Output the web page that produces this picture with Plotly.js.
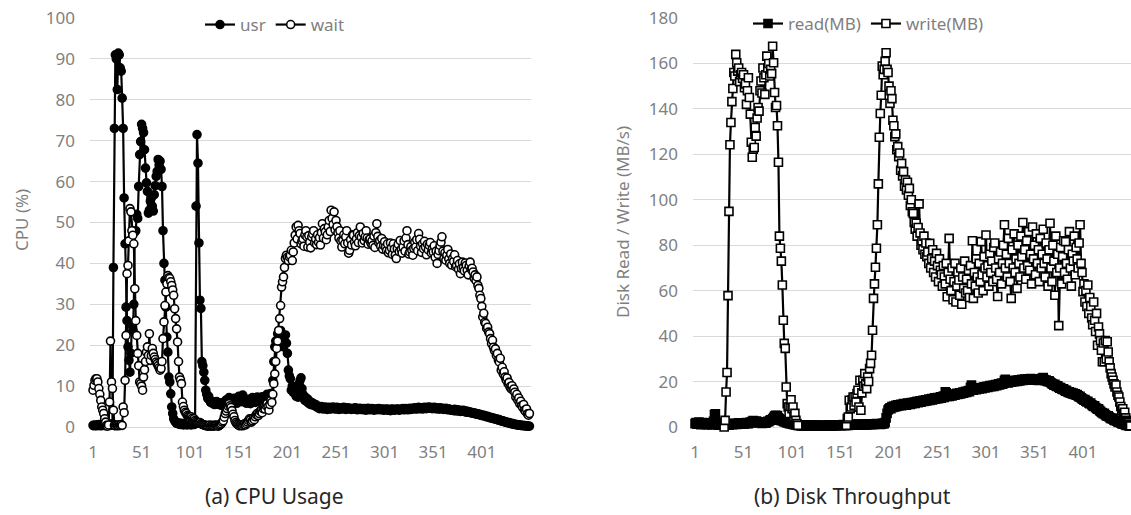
<!DOCTYPE html>
<html>
<head>
<meta charset="utf-8">
<script src="https://cdn.plot.ly/plotly-3.0.1.min.js"></script>
<style>html,body{margin:0;padding:0;background:#fff;}#chart{width:1131px;height:515px;}</style>
</head>
<body>
<div id="chart"></div>
<script>
// ---------- data ----------
const xTicks = [1, 51, 101, 151, 201, 251, 301, 351, 401];
const xTickLabels = ["1", "51", "101", "151", "201", "251", "301", "351", "401"];

// (a) CPU usage, %
const usr = [
0.4,0.3,0.5,0.4,0.3,0.5,0.6,0.4,0.3,0.5,0.4,0.6,0.5,0.3,0.4,0.5,0.7,0.5,0.4,0.6,
0.8,39,
73,91,90,82.5,91.4,91,87.8,87,80.4,73,
56,44.8,29.3,26,19.6,16.3,13.4,18,25,23.6,
30,47.7,48,52,51,58.8,66.6,69.8,74,73,
72,67.8,63.3,59.7,57.6,52.3,53,55.2,56,54,
52.8,56.8,59,61.3,62.5,65.4,64,65,63,58.8,
48,40,35.9,29.3,22,18.3,12.2,11,8.1,4.9,
3.3,2,
1.5,1.2,0.9,0.8,1,0.7,0.6,0.9,0.8,0.5,0.7,0.6,0.8,0.5,0.7,0.9,0.6,0.5,0.8,0.7,0.6,1.5,
54,71.5,64.5,45,31,29,
16,15,13.4,11.4,9,8,7,7.5,
6.5,6,6.3,5.8,6,5.5,5.9,6.2,5.6,6,5.5,5.8,5.3,5.7,6,5.5,6.2,6.6,6,6.8,
7.2,6.5,6,5.7,6.3,7,6.6,6,5.8,6.4,7.5,7,6.5,6.2,7.8,7,6.4,6,5.8,6.3,
6.8,6,5.7,6.5,7.2,6.8,6.2,6,6.5,7.3,7,6.6,6.2,6.8,7.4,7,6.5,6.9,7.3,8,
7.2,6.8,7.5,8.2,7.7,
11.4,16,19.6,21,20,22.8,19.6,22,23.6,21,22.2,19.6,21,22.5,20.5,
18,13.9,12.5,11.8,9,10,8.5,9.2,8.1,7.5,8,7.3,10.5,11.4,12,9.4,8,7,6.5,7.2,
6.2,6.8,5.8,6.2,5.5,6,5.4,5.7,5.2,5.5,
4.9,5.1,4.7,4.5,4.8,5,4.6,4.4,4.7,4.9,4.5,4.3,4.6,4.8,4.4,4.5,4.7,4.9,4.6,4.4,
4.5,4.8,4.6,4.3,4.5,4.7,4.4,4.6,4.8,4.5,4.3,4.5,4.7,4.4,4.6,4.5,4.3,4.4,4.6,4.5,
4.7,4.4,4.2,4.4,4.6,4.3,4.5,4.4,4.2,4.5,4.3,4.1,4.4,4.6,4.3,4.2,4.4,4.5,4.3,4.1,
4.3,4.4,4.2,4.4,4.5,4.3,4.2,4.4,4.3,4.1,
4.3,4.2,4.4,4.1,4.3,4.2,4.0,4.3,4.4,4.2,4.1,4.3,4.2,4.4,4.3,4.1,4.2,4.4,4.3,4.5,
4.2,4.3,4.5,4.4,4.2,4.4,4.6,4.3,4.5,4.4,4.6,4.7,4.5,4.4,4.6,4.8,4.5,4.7,4.6,4.4,
4.6,4.8,4.7,4.5,4.7,4.9,4.6,4.8,4.7,4.5,4.6,4.8,4.5,4.7,4.6,4.4,4.5,4.7,4.4,4.6,
4.5,4.3,4.4,4.6,4.3,4.2,4.4,4.3,4.1,4.2,
4.2,4.0,4.3,4.1,3.9,4.2,4.0,4.1,3.8,4.0,3.9,4.1,3.8,3.7,3.9,3.6,3.8,3.7,3.5,3.6,
3.4,3.5,3.3,3.4,3.2,3.1,3.2,3.0,3.1,2.9,2.8,2.9,2.7,2.8,2.6,2.5,2.6,2.4,2.3,2.4,
2.2,2.1,2.2,2.0,1.9,2.0,1.8,1.7,1.8,1.6,1.5,1.4,1.5,1.3,1.2,1.3,1.1,1.0,1.1,0.9,
0.8,0.9,0.7,0.75,0.6,0.65,0.5,0.55,0.45,0.5,0.4,0.35,0.4,0.3,0.35,0.25,0.3,0.2,0.25,0.2
];

const wait = [
9,10.2,11.4,11.8,11.8,11,9.4,8,6.5,4.9,4.1,3.3,2,1.2,
0.4,0.2,0.5,6.1,21,11,9.4,4.1,
0.4,0.3,0.5,0.4,0.3,0.5,0.4,0.6,0.4,4.9,3.5,
11.4,22.4,37.5,39.5,45.5,53.4,52.6,48,46.9,44.8,33.8,26,22.4,18,
15,11,10.6,10,9,12.2,14,16,18.3,19.6,
17.5,22.8,16.3,17.5,19.2,18,17.1,16.5,15.9,15.5,
15,14.5,13.9,14.3,16,21.6,25.7,29.7,33,35,
37,36.5,36.3,35.5,34.6,33.5,32.2,28.9,26.5,24,
20.8,16,12.2,11.5,10.6,6.1,5,4.1,3.6,3.3,
2.8,2.6,2.4,2.2,2.5,2.1,1.8,2,1.6,1.4,
1.2,1,0.9,1.1,0.8,0.7,0.6,0.5,0.4,
0.4,0.3,0.2,0.3,0.5,0.2,0.3,0.4,0.2,0.3,0.5,0.4,0.3,0.2,0.4,0.6,0.8,1.2,
1.5,2.4,3.3,3.9,4.5,5.1,5.7,5.2,4.8,4.0,3.1,2.5,1.6,1.1,0.8,0.6,
0.4,0.3,0.5,0.4,0.3,0.6,0.8,0.5,0.8,1.2,1.6,2,1.8,1.2,1.5,2.2,1.8,2.5,3,3.3,
2.8,3.3,3.9,4.1,3.5,4.5,4.9,4.4,5.2,5.7,5.0,4.1,5.5,6.5,6.0,
8,10.6,13,16,19.2,21,23.6,26.5,29.7,34.2,35.5,36.7,39,41.2,42,41.5,40.7,41.6,42,43.2,
40.7,42.8,45,46.9,48.9,46,49.3,48,
47.3,44.8,45.5,46,44.2,47,48,46.5,44,46.8,45.2,43.8,46.5,47.2,48,45,46,44.6,47,45.2,
46.3,44.5,47.5,49.7,46.2,48.5,47.7,45.8,47,48.9,50.5,47.8,53,51,49.5,52.6,48.2,
50.5,49,47.5,46.2,48,45.5,44,45.6,47,44.8,46.5,48,45,42.5,43.2,45.8,44.5,47,46.9,45.2,
44.3,46,47.5,45.1,46.8,48.9,46.4,45,47.3,45.6,46.5,48,46.2,44.7,45.8,46,44.9,45.5,44.4,46.7,
43.9,47.5,49.7,46.6,45,45.6,44.2,46.1,43.5,44.4,
45.3,44,43.1,44.8,42.6,43.2,45,43.8,42.2,44.8,43.5,42,41.2,43.6,44.7,42.9,45.6,43.4,42.5,44,
45.5,43,46.2,48,44.6,42.3,42.8,44.1,43.2,42,43.7,45.2,44,45.8,43.1,47.3,45.9,44.2,42.7,44.8,
43.6,45.4,44,42.1,44.7,43.3,44.4,45.1,42.6,43.5,
42.8,44.3,41.5,43,40,42.2,43.1,44.4,45.2,46.5,43,41.2,42.6,40.8,42,43.4,41.1,40,42.3,39.6,
41.2,40.5,42.1,39.2,39.5,40.7,38.6,39.9,37.5,38.8,40.3,39,38.2,40.1,39.5,38.3,37.2,39.4,40.3,38.6,
38.8,37.9,36.4,37.2,35.8,36.7,34.6,33.9,32.2,31.4,
29.5,26.9,27.8,25.6,25.3,24.1,24.4,23.2,22.8,21.6,20.4,21.2,19.5,18.7,19.1,17.5,18,16.4,15.9,16.8,
13.9,14.6,13,13.5,12.2,11.5,12,10.6,10.9,9.8,9.4,10.1,9,9.3,8.5,7.3,8,6.6,7.1,5.7,
6.3,5.2,4.8,5.5,4.1,3.8,4.4,3.2,2.9,3.3
];

// (b) Disk throughput, MB/s
const readMB = [
1.5,2,1.2,1.8,2.2,1.5,1,1.6,2,1.3,1.1,1.7,1.4,1,1.5,1.9,1.2,0.9,1.4,2.5,
5.5,5.8,2,1.2,0.8,1,1.3,0.9,1.1,0.8,
0.9,1.2,1,1.4,1.1,0.8,1.3,1.5,1.2,1,1.4,1.6,1.3,1.1,1.5,1.8,1.4,1.2,1.6,1.9,
1.5,1.3,1.7,2,1.6,1.4,1.8,2.2,1.9,2.5,2.8,2.3,2.1,2.6,2.4,2,1.8,2.1,1.9,1.6,
1.8,2.2,2,1.7,2.1,2.5,2.3,2.8,3.2,3,
3.6,4.2,4.8,5.2,4.5,5,4,3.6,3,2.8,3.2,2.6,2.2,2.5,2,1.8,2.1,1.6,1.4,1.7,
1.3,1.1,1.4,1,0.9,1.2,0.8,0.7,1,0.6,
0.6,0.8,0.5,0.7,0.9,0.6,0.4,0.7,0.5,0.8,0.6,0.4,0.7,0.9,0.5,0.6,0.8,0.5,0.4,0.6,
0.7,0.5,0.8,0.6,0.4,0.7,0.5,0.6,0.9,0.7,0.5,0.6,0.8,0.5,0.7,0.9,0.6,0.8,1,0.7,
0.9,0.6,0.8,1.1,0.7,0.9,0.8,1,0.7,0.9,1.2,0.8,1,1.1,0.9,1.2,1,0.8,1.1,1.3,
1,0.9,1.2,1,1.3,1.1,0.9,1.2,1,1.4,1.1,1.3,1,1.2,1.4,1.1,1.3,1.5,1.2,1.4,
1.3,1.1,1.5,1.3,1.6,
1.5,2,4,6,7.5,8,
8.5,8,9,8.6,9.2,8.8,9.5,9,9.8,9.3,9.6,10,9.4,9.9,10.3,9.7,10.1,9.6,10.5,10,
10.4,9.9,10.8,10.2,10.6,11,10.4,10.9,11.3,10.7,11.1,11.5,10.9,11.4,11.8,11.2,11.6,12,11.5,
11.9,12.3,11.7,12.1,12.5,11.9,12.4,12.8,12.2,12.6,13,12.5,12.9,13.3,12.7,13.1,13.6,13,15.5,15,
13.5,13.9,13.4,13.8,14.2,13.7,14.1,14.5,14,14.4,14.8,14.3,14.7,15.1,14.6,15,15.4,14.9,15.3,15.7,
15.2,15.6,16,15.5,17.5,18.5,16.5,16.2,16.6,16.9,16.4,16.8,17.2,16.7,17.1,17.4,16.9,17.3,17.7,17.2,
17.6,17.9,17.4,17.8,18.2,17.7,18.1,18.4,17.9,18.3,18.7,18.2,18.6,19,18.5,18.9,19.3,18.8,19.2,20.5,
21,19.5,19.9,19.4,19.8,20.2,19.7,20.1,20.4,19.9,20.3,20.6,20.1,20.5,20.8,20.3,20.7,21,20.5,20.8,
21.1,20.6,20.9,21.2,20.7,21,21.3,20.8,21.1,20.6,
20.9,21.2,20.7,21,20.5,20.8,21.1,20.6,21.5,21.8,20.9,20.4,20.7,20.2,19.9,20.3,19.8,19.5,19.1,18.8,
18.4,18.8,18.2,17.8,18.1,17.5,17.1,17.4,16.8,16.5,16.8,16.2,15.8,16.1,15.5,15.2,15.5,14.9,15.2,14.6,
14.9,14.3,14.6,14,14.3,13.7,13.2,13.5,12.9,12.5,
12.2,11.8,12.1,11.4,11,11.3,10.6,10.2,10.5,9.8,9.4,9,9.3,8.6,8.2,7.8,8,7.3,6.9,6.5,
6.2,5.8,6,5.4,5,4.7,4.9,4.4,4,3.7,3.9,3.4,3,2.8,3,2.5,2.2,2,2.2,1.8,
1.5,1.3,1.5,1.1,0.9,0.7,0.8,0.6,0.5,0.4
];

const writeMB = [
null,null,null,null,null,null,null,null,null,null,null,null,null,null,null,
null,null,null,null,null,null,null,null,null,null,null,null,null,null,null,
0,2.9,15.4,24,57.8,94.9,124.2,134,143.2,149,
156,154.5,164,160.3,156.6,158,152,155,156,153.5,
155,149.3,151,142,148,153.7,145,137.7,125.3,118.7,
122.3,123,131.8,128,136,140.6,139,148,152.3,147,
158,153.7,146.4,155,163.2,158,160,154.5,157.4,155.5,
167.6,160.3,147.2,140.6,141.5,132.6,116.5,84,78.7,73,
62.5,47,36.8,34.6,17.6,10.3,8.8,5.9,9,12,
8,8.8,4.4,6,2.9,1.5,0.7,
null,null,null,null,null,null,null,null,null,null,null,null,null,null,null,null,null,null,null,null,
null,null,null,null,null,null,null,null,null,null,null,null,null,null,null,null,null,null,null,null,
null,null,null,null,null,null,null,null,null,
0.7,3.7,4.4,11.8,8,8.8,12,13.2,9.5,13.2,11,14.7,16.2,8.8,20.6,7.4,15,20.6,18,23.5,
19,16.9,22,20,25.7,28,31.6,42.6,56.6,63,70.3,78.7,89,107,127.5,138,146,158.8,155,157.4,
160.9,164.7,157.4,156,150,142.5,148,144.5,135,132.6,127.8,129,122,123.4,119,120.6,113,116,110.5,112.4,
106,108.7,104.3,107.7,102,105,97.5,100,94.7,94,90,87,89.7,84,87.8,98.2,85.4,80,82,78,
84,76,81,75,
77,72,80.8,70,74,78,68,73,66,76.4,71,64,74,69,67,62,71,66,63,72,
57.3,68,83,65,60,70,56,64,72,55,62,68,64.7,58,70,54,66,61,73,59,
65,60,69,57,71,63,82,56.6,68,62,74,66,59,72,64,81.6,67,60,75,70,
84.5,66,71,62,76,68,73,64,79,81,70,65,57.4,74,68,77,63,72,80,89,
70,76,66,83,72,64,56.6,78,70,85,68,74,61,80,72,66,84,75,90,70,
78,65,82,71,86,69,76,63,88,74,80,67,85,72,78,64,83,70,76,87,
72,66,81,74,62,78,89.7,70,64,80,73,58,84,68,76,44.6,70,79,63,75,
82,68,81.6,72,65,78,86,70,62,76,73,84,67,79,74,70,81,89,72,68,
59.6,63,55,60,53,62.5,50,57,53,48,45,55,47,42,50,36,44,41,38,33.8,
28.7,37,28.7,38,30,37.5,33,28.7,26,23.5,22,20.6,19,17.6,18.5,15.4,14,13.2,11,9,
7.4,8,5.9,6.5,4,3,2.5,1.8,1,0.5
];

// ---------- drawing ----------
const W = 1131, H = 515;
const px = v => v / W;
const py = v => (H - v) / H;
const idx = arr => arr.map((_, k) => k + 1);

const FONT = "Noto Sans, Open Sans, DejaVu Sans, sans-serif";
const GRAY = "#7f7f7f";
const GRID = "#d9d9d9";

function lineTrace(y, name, xa, ya, symbol, fill, legend, size) {
  return {
    x: idx(y), y: y, name: name, type: "scatter", mode: "lines+markers",
    xaxis: xa, yaxis: ya, legend: legend, cliponaxis: false,
    line: {color: "#000", width: 2.2},
    marker: {symbol: symbol, size: size, color: fill, line: {color: "#000", width: 1.6}},
    connectgaps: false
  };
}

const traces = [
  lineTrace(usr, "usr", "x", "y", "circle", "#000", "legend", 8),
  lineTrace(wait, "wait", "x", "y", "circle", "#fff", "legend", 8),
  lineTrace(readMB, "read(MB)", "x2", "y2", "square", "#000", "legend2", 8),
  lineTrace(writeMB, "write(MB)", "x2", "y2", "square", "#fff", "legend2", 8)
];

const xCommon = {
  tickmode: "array", tickvals: xTicks, ticktext: xTickLabels,
  showgrid: false, zeroline: false, showline: false, ticks: "",
  tickfont: {family: FONT, size: 17, color: GRAY}, ticklabelstandoff: 13, fixedrange: true
};
const yCommon = {
  showgrid: true, gridcolor: GRID, gridwidth: 1, zeroline: true, zerolinecolor: GRID, zerolinewidth: 1,
  showline: false, ticks: "", tickfont: {family: FONT, size: 17, color: GRAY}, ticklabelstandoff: 14, fixedrange: true
};

const layout = {
  width: W, height: H, autosize: false,
  margin: {l: 0, r: 0, t: 0, b: 0, pad: 0},
  paper_bgcolor: "#fff", plot_bgcolor: "#fff",
  font: {family: FONT, color: GRAY},
  xaxis: Object.assign({}, xCommon, {domain: [px(90), px(531)], range: [-2.09, 451.6], anchor: "y"}),
  yaxis: Object.assign({}, yCommon, {domain: [py(427), py(18)], range: [0, 100], dtick: 10, tick0: 0, anchor: "x"}),
  xaxis2: Object.assign({}, xCommon, {domain: [px(693), 1], range: [-1.1, 450.5], anchor: "y2"}),
  yaxis2: Object.assign({}, yCommon, {domain: [py(427), py(18)], range: [0, 180], dtick: 20, tick0: 0, anchor: "x2"}),
  showlegend: true,
  legend: {orientation: "h", x: px(200), y: py(25), xanchor: "left", yanchor: "middle",
           bgcolor: "rgba(0,0,0,0)", font: {family: FONT, size: 17, color: GRAY}, itemwidth: 30, tracegroupgap: 0},
  legend2: {orientation: "h", x: px(748), y: py(24), xanchor: "left", yanchor: "middle",
           bgcolor: "rgba(0,0,0,0)", font: {family: FONT, size: 17, color: GRAY}, itemwidth: 30, tracegroupgap: 0},
  annotations: [
    {text: "(a) CPU Usage", xref: "paper", yref: "paper", x: px(274), y: py(496), showarrow: false,
     xanchor: "center", yanchor: "middle", font: {family: FONT, size: 21, color: "#262626"}},
    {text: "(b) Disk Throughput", xref: "paper", yref: "paper", x: px(852), y: py(496), showarrow: false,
     xanchor: "center", yanchor: "middle", font: {family: FONT, size: 21, color: "#262626"}},
    {text: "CPU (%)", xref: "paper", yref: "paper", x: px(21), y: py(220), showarrow: false, textangle: -90,
     xanchor: "center", yanchor: "middle", font: {family: FONT, size: 17, color: GRAY}},
    {text: "Disk Read / Write (MB/s)", xref: "paper", yref: "paper", x: px(622), y: py(222), showarrow: false, textangle: -90,
     xanchor: "center", yanchor: "middle", font: {family: FONT, size: 17, color: GRAY}}
  ]
};

Plotly.newPlot("chart", traces, layout, {staticPlot: true, displayModeBar: false});
</script>
</body>
</html>
